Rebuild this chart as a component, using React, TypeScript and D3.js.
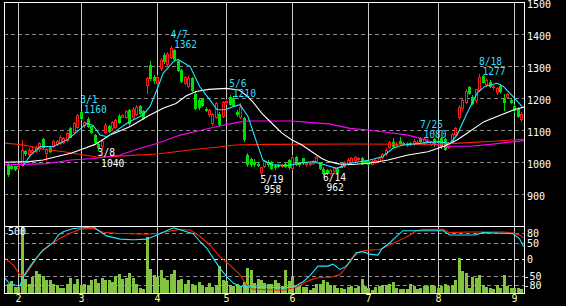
import React from 'react';
import * as d3 from 'd3';

const W = 566;
const H = 306;

// Daily OHLC (trading days from late Jan to early Sep)
const opens = [995,988,987,982,992,1034,1025,1032,1036,1041,1073,1030,1045,1051,1058,1061,1064,1070,1107,1096,1111,1158,1117,1135,1112,1085,1058,1050,1096,1112,1106,1110,1145,1143,1141,1163,1142,1152,1175,1160,1241,1304,1266,1247,1294,1336,1306,1330,1350,1316,1288,1248,1240,1262,1214,1196,1198,1165,1150,1122,1142,1150,1145,1188,1205,1202,1158,1143,1138,1022,1010,1002,996,970,988,1002,1000,990,992,988,996,1006,982,1016,998,1012,994,996,998,1004,998,980,976,966,972,980,990,990,995,1000,1008,1012,1014,1004,1004,996,1002,1004,1016,1028,1048,1062,1054,1068,1060,1054,1060,1058,1060,1074,1062,1068,1058,1072,1068,1076,1072,1048,1064,1090,1143,1169,1189,1234,1205,1195,1226,1270,1244,1252,1236,1221,1240,1200,1205,1194,1176,1168,1134];
const highs = [998,992,990,994,1070,1040,1046,1050,1052,1064,1076,1046,1048,1070,1070,1084,1080,1096,1110,1126,1150,1160,1130,1140,1115,1088,1062,1070,1122,1116,1130,1136,1150,1150,1164,1168,1172,1178,1180,1162,1268,1318,1272,1272,1326,1342,1345,1362,1354,1320,1292,1270,1274,1268,1220,1200,1202,1172,1168,1155,1190,1158,1192,1198,1210,1206,1162,1186,1140,1028,1015,1010,1000,986,1008,1006,1004,994,996,996,1000,1010,1024,1020,1002,1015,1002,1000,1008,1020,1002,984,980,980,986,984,994,1004,1012,1018,1020,1018,1018,1008,1008,1008,1010,1018,1030,1044,1066,1076,1062,1078,1064,1062,1064,1072,1070,1080,1078,1072,1066,1076,1072,1079,1076,1062,1092,1110,1178,1198,1228,1240,1210,1230,1277,1274,1262,1256,1244,1236,1244,1212,1218,1198,1182,1172,1156];
const lows = [958,978,975,980,988,1024,1020,1028,1032,1036,1046,1007,1032,1048,1054,1058,1060,1066,1078,1092,1108,1134,1110,1110,1092,1060,1040,1046,1092,1094,1102,1106,1124,1140,1138,1118,1138,1148,1150,1134,1218,1258,1248,1240,1290,1310,1300,1325,1318,1286,1250,1244,1236,1222,1166,1168,1176,1160,1145,1118,1138,1115,1140,1182,1178,1176,1145,1138,1068,990,990,990,988,958,985,990,978,980,986,985,984,980,978,992,990,996,990,993,994,1002,980,962,964,962,968,966,984,986,992,996,1004,1008,996,998,992,994,998,1000,1012,1024,1044,1048,1050,1056,1054,1050,1055,1054,1056,1064,1058,1062,1054,1052,1058,1046,1038,1044,1060,1086,1136,1164,1184,1212,1182,1190,1222,1250,1240,1236,1230,1212,1218,1162,1200,1184,1158,1142,1130];
const closes = [964,982,978,990,1038,1028,1040,1040,1046,1061,1048,1042,1035,1067,1066,1080,1076,1092,1080,1123,1148,1137,1127,1114,1096,1064,1048,1066,1118,1098,1127,1132,1127,1148,1160,1122,1168,1174,1154,1138,1262,1262,1256,1266,1320,1315,1340,1358,1322,1290,1254,1266,1262,1226,1170,1172,1180,1163,1162,1150,1185,1120,1188,1192,1182,1180,1150,1172,1072,995,996,994,992,984,1004,994,982,984,990,993,988,984,1018,996,994,1000,998,997,1004,1016,982,966,968,977,982,970,986,1000,1008,1014,1016,1015,998,1001,996,1004,1007,1014,1026,1040,1062,1052,1058,1060,1057,1059,1057,1068,1064,1068,1074,1064,1062,1056,1062,1050,1042,1058,1088,1106,1174,1195,1224,1216,1184,1228,1267,1252,1258,1238,1240,1231,1222,1190,1214,1188,1162,1146,1152];
const volumes = [70,88,48,45,560,108,70,120,163,140,125,95,95,70,58,40,40,70,115,70,103,58,65,58,95,103,75,115,95,100,85,130,145,108,115,150,110,65,40,33,420,178,133,120,170,115,95,145,170,95,103,70,95,70,50,83,50,45,75,45,58,200,95,90,58,50,65,50,83,188,170,75,108,100,75,70,65,95,75,50,170,88,120,50,58,45,45,25,40,65,65,95,83,58,50,40,40,33,45,50,40,50,108,50,40,25,45,50,58,58,65,83,40,33,33,33,65,50,33,40,50,50,58,50,40,50,65,50,58,95,258,165,150,40,120,115,133,58,45,40,33,58,40,133,50,40,40,40,33];

// Moving averages: [day position, value]
const maShort: [number, number][] = [[4.2,990],[6.2,1020],[9.1,1049],[12.8,1049],[16.9,1070],[19.8,1096],[22.6,1122],[24.4,1115],[26.4,1085],[28.4,1080],[30.7,1096],[34.2,1122],[35.9,1132],[38.8,1148],[40.8,1174],[42.8,1226],[44.6,1278],[47.5,1314],[48.9,1322],[50.4,1312],[52.4,1299],[55.2,1236],[58.1,1195],[60.2,1164],[62.5,1164],[64.8,1174],[66.8,1180],[69.1,1143],[71.7,1059],[73.4,1007],[76.3,992],[80.4,990],[84.1,997],[87.9,1002],[91.9,990],[94.8,981],[98.5,997],[104.3,1007],[108,1018],[110.9,1044],[113.8,1054],[118.7,1059],[123.6,1064],[127.4,1059],[129.4,1085],[132.3,1153],[135.2,1216],[137.5,1238],[141,1247],[142.7,1238],[145.6,1205],[148.2,1174]];
const maMid: [number, number][] = [[-1,1000],[6,1002],[10,1007],[14,1018],[18,1028],[22,1044],[25,1056],[29.3,1085],[35,1111],[40.8,1148],[44.6,1169],[48.3,1184],[51.2,1207],[54.1,1221],[57.8,1228],[62.8,1231],[66.5,1226],[68.5,1210],[70.5,1189],[73.1,1153],[76,1122],[78.9,1091],[81.8,1070],[84.7,1054],[87.5,1033],[90.4,1012],[92.5,1002],[95.3,995],[99.1,993],[104,997],[109.5,1007],[115.3,1023],[121,1033],[125.6,1050],[129.4,1070],[132.3,1091],[137.2,1127],[142,1148],[145.8,1164],[149,1173]];
const maLong: [number, number][] = [[-1,992],[11,996],[18,1007],[24.7,1012],[32.2,1023],[37.9,1044],[42.8,1059],[49.5,1085],[54.1,1096],[59.9,1111],[65.6,1124],[68.5,1129],[81.8,1129],[87.5,1124],[92.5,1120],[98.5,1106],[103.7,1101],[109.5,1093],[115.3,1085],[121,1068],[124.5,1050],[133,1050],[139,1056],[144.7,1063],[149,1068]];
const maVeryLong: [number, number][] = [[-1,1060],[4.5,1054],[10.2,1041],[16,1033],[21.8,1023],[25.7,1016],[33,1020],[42.8,1026],[48.3,1033],[54.1,1041],[59.9,1047],[65.6,1054],[74.3,1056],[100,1057],[124,1056],[130,1060],[140,1066],[149,1072]];

// RCI lines: [day position, value]
const rciShort: [number, number][] = [[-1,-58],[0.4,-76],[3.3,-82],[4.3,-54],[5.2,-38],[7.2,-7],[10,29],[12.9,51],[14.4,75],[15.8,85],[18.7,95],[21.6,97],[24.5,100],[26.4,85],[28.3,72],[32.2,62],[36,60],[39.9,62],[42.8,75],[45.6,88],[47.6,97],[50.4,88],[53.3,79],[55.3,54],[57.2,34],[59.1,3],[61,-28],[63,-54],[64.9,-74],[66.8,-82],[70.6,-86],[74.5,-86],[79.2,-88],[82.1,-86],[85,-69],[86.9,-51],[89.3,-21],[92.2,-21],[93.6,-15],[95.6,-31],[97.5,-21],[98.9,-2],[100.3,20],[102.3,23],[104.2,16],[106.6,13],[107.6,31],[110,51],[111.9,70],[113.8,88],[125.4,88],[127.3,75],[134.5,75],[136.9,82],[145.6,79],[147.5,62],[148.6,39]];
const rciLong: [number, number][] = [[-1,3],[1.4,-18],[3.3,-48],[4.8,-48],[6.2,-28],[9.1,18],[12,44],[14.9,65],[17.7,80],[20.6,92],[24.5,95],[27.4,83],[31.2,80],[39.9,77],[43.7,80],[45.6,85],[49.5,92],[52.4,90],[55.3,70],[58.1,44],[61,8],[63.9,-18],[66.8,-48],[68.7,-79],[70.6,-92],[79.2,-95],[83,-86],[86.9,-64],[89.3,-57],[92.7,-56],[95.6,-48],[97.5,-23],[98.9,3],[101.3,23],[104.2,29],[107.1,30],[110,44],[112.9,59],[115.8,75],[117.7,88],[119.6,92],[125.4,92],[127.3,82],[133.1,84],[142.7,84],[145.6,81],[147.5,75],[148.6,65]];

const monthStarts = [3, 21, 43, 63, 82, 104, 124, 146];
const monthLabels = ['2', '3', '4', '5', '6', '7', '8', '9'];
const priceTicks = [900, 1000, 1100, 1200, 1300, 1400, 1500];
const rciTicks = [80, 50, 0, -50, -80];

const highMarks = [
  { i: 21, date: '3/1', v: 1160 },
  { i: 47, date: '4/7', v: 1362 },
  { i: 64, date: '5/6', v: 1210 },
  { i: 119, date: '7/25', v: 1080 },
  { i: 136, date: '8/18', v: 1277 },
];
const lowMarks = [
  { i: 26, date: '3/8', v: 1040 },
  { i: 73, date: '5/19', v: 958 },
  { i: 91, date: '6/14', v: 962 },
];

const FONT = '"DejaVu Sans Mono", monospace';
const LEFT = 4, RIGHT = 524, TOP = 2, MID = 226, BOTTOM = 293;

export default function App() {
  const n = closes.length;
  const x = d3.scaleLinear().domain([0, n - 1]).range([8.5, 8.5 + (n - 1) * 3.466]);
  const y = d3.scaleLinear().domain([800, 1500]).range([226.3, 2.3]);
  const yv = d3.scaleLinear().domain([0, 500]).range([293, 226]);
  const yr = d3.scaleLinear().domain([-100, 100]).range([291.8, 226.8]);
  const cx = (i: number) => Math.floor(x(i)) + 0.5;

  const linePrice = d3.line<[number, number]>().x(d => x(d[0])).y(d => y(d[1]));
  const lineRci = d3.line<[number, number]>().x(d => x(d[0])).y(d => yr(d[1]));

  return (
    <svg width={W} height={H} style={{ position: 'absolute', left: 0, top: 0, display: 'block', background: '#000' }}>
      <defs>
        <clipPath id="mainClip"><rect x={LEFT + 0.5} y={TOP + 0.5} width={RIGHT - LEFT - 0.5} height={MID - TOP - 0.5} /></clipPath>
        <clipPath id="subClip"><rect x={LEFT + 0.5} y={MID + 0.5} width={RIGHT - LEFT - 0.5} height={BOTTOM - MID - 0.5} /></clipPath>
      </defs>
      <rect x={0} y={0} width={W} height={H} fill="#000" />

      {/* price gridlines */}
      {priceTicks.filter(t => t < 1500).map(t => (
        <line key={'pg' + t} x1={LEFT} x2={RIGHT} y1={Math.round(y(t)) + 0.5} y2={Math.round(y(t)) + 0.5}
          stroke="#8a8a8a" strokeDasharray="4,3" shapeRendering="crispEdges" />
      ))}
      {/* RCI gridlines */}
      {rciTicks.map(t => (
        <line key={'rg' + t} x1={LEFT} x2={RIGHT} y1={Math.round(yr(t)) + 0.5} y2={Math.round(yr(t)) + 0.5}
          stroke={t === 0 ? '#ffffff' : '#8a8a8a'} strokeDasharray="4,3" shapeRendering="crispEdges" />
      ))}
      {/* month lines */}
      {monthStarts.map((m, k) => (
        <line key={'mg' + k} x1={cx(m)} x2={cx(m)} y1={TOP} y2={BOTTOM} stroke="#c8c8c8" shapeRendering="crispEdges" />
      ))}

      {/* volume and RCI */}
      <g clipPath="url(#subClip)">
        {volumes.map((v, i) => (
          <rect key={'v' + i} x={cx(i) - 1.5} width={3} y={Math.round(yv(v))} height={Math.max(0, BOTTOM - Math.round(yv(v)))}
            fill="#84c341" shapeRendering="crispEdges" />
        ))}
        <path d={lineRci(rciLong) || ''} fill="none" stroke="#ff2000" strokeWidth={1.1} />
        <path d={lineRci(rciShort) || ''} fill="none" stroke="#22e8ff" strokeWidth={1.1} />
      </g>

      {/* candles and moving averages */}
      <g clipPath="url(#mainClip)">
        {closes.map((c, i) => {
          const o = opens[i];
          const up = c >= o;
          const px = cx(i);
          const yt = Math.round(y(Math.max(o, c)));
          const yb = Math.round(y(Math.min(o, c)));
          const col = up ? '#ff1a1a' : '#00dd00';
          return (
            <g key={'c' + i} shapeRendering="crispEdges">
              <line x1={px} x2={px} y1={Math.round(y(highs[i]))} y2={Math.round(y(lows[i])) + 1} stroke={col} />
              {up ? (
                <rect x={px - 1} y={yt + 0.5} width={2} height={Math.max(1, yb - yt)} fill="#000" stroke={col} />
              ) : (
                <rect x={px - 1.5} y={yt} width={3} height={Math.max(1, yb - yt + 1)} fill={col} />
              )}
            </g>
          );
        })}
        <path d={linePrice(maVeryLong) || ''} fill="none" stroke="#ff2000" strokeWidth={1.1} />
        <path d={linePrice(maLong) || ''} fill="none" stroke="#ff00ff" strokeWidth={1.1} />
        <path d={linePrice(maMid) || ''} fill="none" stroke="#ffffff" strokeWidth={1.1} />
        <path d={linePrice(maShort) || ''} fill="none" stroke="#22e8ff" strokeWidth={1.1} />
      </g>

      {/* high / low annotations */}
      {highMarks.map(m => (
        <g key={'h' + m.i} fontFamily={FONT} fontSize={9.6} fill="#33ddff">
          <text x={x(m.i) - 1} y={y(m.v) - 8.5}>{m.date}</text>
          <text x={x(m.i) + 2.5} y={y(m.v) + 1.7}>{m.v}</text>
        </g>
      ))}
      {lowMarks.map(m => (
        <g key={'l' + m.i} fontFamily={FONT} fontSize={9.6} fill="#ffffff">
          <text x={x(m.i) - 1} y={y(m.v) + 6.8}>{m.date}</text>
          <text x={x(m.i) + 2.5} y={y(m.v) + 17}>{m.v}</text>
        </g>
      ))}

      {/* frame */}
      <g stroke="#ffffff" shapeRendering="crispEdges">
        <line x1={LEFT + 0.5} x2={LEFT + 0.5} y1={TOP} y2={BOTTOM + 1} />
        <line x1={RIGHT + 0.5} x2={RIGHT + 0.5} y1={TOP} y2={BOTTOM + 1} />
        <line x1={LEFT} x2={RIGHT + 1} y1={TOP + 0.5} y2={TOP + 0.5} />
        <line x1={LEFT} x2={RIGHT + 1} y1={MID + 0.5} y2={MID + 0.5} />
        <line x1={LEFT} x2={RIGHT + 1} y1={BOTTOM + 0.5} y2={BOTTOM + 0.5} />
      </g>

      {/* right axis labels */}
      {priceTicks.map(t => (
        <text key={'pt' + t} x={527} y={y(t) + 5.2} fontFamily={FONT} fontSize={10} fill="#ffffff">{t}</text>
      ))}
      {rciTicks.map(t => (
        <text key={'rt' + t} x={t < 0 ? 523.5 : 527} y={yr(t) + 4} fontFamily={FONT} fontSize={10} fill="#ffffff">{t}</text>
      ))}
      <text x={8} y={235} fontFamily={FONT} fontSize={10} fill="#ffffff">500</text>

      {/* month labels */}
      {monthStarts.map((m, k) => (
        <text key={'ml' + k} x={cx(m)} y={302} textAnchor="middle" fontFamily={FONT} fontSize={10} fill="#ffff99">{monthLabels[k]}</text>
      ))}
    </svg>
  );
}
